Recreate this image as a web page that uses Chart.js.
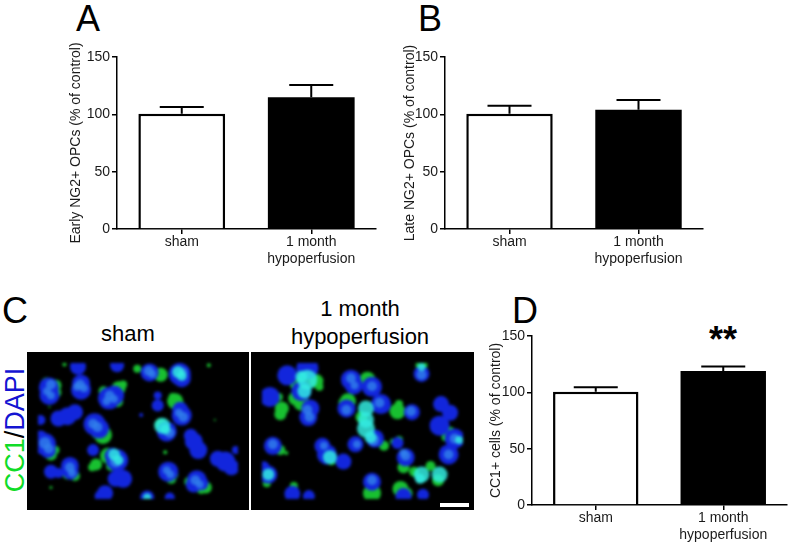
<!DOCTYPE html>
<html>
<head>
<meta charset="utf-8">
<script src="https://cdn.jsdelivr.net/npm/chart.js@4"></script>
<style>
  html, body { margin: 0; padding: 0; background: #fff; }
  body { width: 792px; height: 550px; position: relative; overflow: hidden; font-family: "Liberation Sans", Arial, sans-serif; color: #000; }
  .box { position: absolute; }
  .box canvas { display: block; }
  .txt { position: absolute; white-space: nowrap; line-height: 1; }
  .letter { font-size: 36px; }
  .head { font-size: 22px; transform: translateX(-50%); }
  .field { position: absolute; overflow: hidden; background: #000; }
  .field canvas { filter: blur(1.5px); }
</style>
</head>
<body>
<div class="txt letter" style="left:76px;top:1px">A</div>
<div class="txt letter" style="left:418px;top:1px">B</div>
<div class="txt letter" style="left:2px;top:293px">C</div>
<div class="txt letter" style="left:512px;top:293px">D</div>
<div class="txt head" style="left:128px;top:323px">sham</div>
<div class="txt head" style="left:360px;top:298px">1 month</div>
<div class="txt head" style="left:360px;top:326px">hypoperfusion</div>
<div class="txt" style="left:15px;top:430px;font-size:27px;transform:translate(-50%,-50%) rotate(-90deg)"><span style="color:#10dc28">CC1</span>/<span style="color:#1414d2">DAPI</span></div>
<div class="txt" style="left:723px;top:322px;font-size:36px;font-weight:bold;transform:translateX(-50%)">**</div>

<div class="box" style="left:68px;top:30px"><canvas id="chartA" width="312" height="245"></canvas></div>
<div class="box" style="left:402px;top:30px"><canvas id="chartB" width="305" height="245"></canvas></div>
<div class="box" style="left:488px;top:309px"><canvas id="chartD" width="303" height="241"></canvas></div>
<div class="field" style="left:27px;top:352px;width:222px;height:158px"><canvas id="fieldSham" width="222" height="158"></canvas></div>
<div class="field" style="left:251px;top:352px;width:223px;height:158px"><canvas id="fieldHypo" width="223" height="158"></canvas>
  <div style="position:absolute;left:189px;top:151px;width:29px;height:4px;background:#fff"></div>
</div>

<script>
const categories = ['sham', ['1 month', 'hypoperfusion']];
const yTicks = [0, 50, 100, 150];

const earlyValues = [100.5, 115];
const earlyErrors = [6, 10.5];
const lateValues = [100.5, 104];
const lateErrors = [7, 8.5];
const cc1Values = [100.5, 119];
const cc1Errors = [4, 4];

// micrograph blobs: [x, y, radius], x/y in field units of the image crop
const shamGreen = [[140,265,6],[143,290,5],[110,255,5],[350,275,7],[365,262,4],[345,320,6],[300,285,5],[490,228,7],[412,207,4],[538,320,8],[530,305,4],[550,335,6],[298,437,9],[278,430,6],[490,400,6],[125,505,6],[140,490,4],[315,510,8],[325,545,5],[275,540,6],[262,550,4],[205,580,5],[180,575,5],[525,590,5],[535,575,4],[640,620,6],[585,600,5],[625,625,5],[650,195,2],[170,192,2],[505,497,2],[125,620,1.5],[120,340,1],[670,385,1],[190,535,2]];
const shamBlue = [[118,272,10],[120,298,10],[225,258,9],[225,280,10],[318,310,11],[335,300,10],[453,220,9],[553,225,11],[560,240,9],[180,372,9],[205,358,8],[150,380,8],[560,370,10],[555,350,8],[270,400,11],[285,415,10],[510,425,10],[105,470,11],[115,490,8],[90,450,8],[600,460,9],[615,490,9],[590,440,7],[345,525,11],[330,510,8],[188,545,9],[190,565,8],[125,565,7],[150,570,5],[340,590,8],[365,590,9],[515,565,10],[610,595,10],[600,610,8],[625,605,7],[305,640,8],[290,650,6],[680,520,8],[705,530,10],[725,550,8],[445,655,7],[480,335,6],[480,300,4],[215,200,8],[345,195,7],[90,385,5],[425,368,2],[740,490,4],[265,490,6],[520,655,5]];
const shamLight = [[125,262,5],[112,285,4],[125,300,4],[222,262,5],[235,275,4],[212,270,4],[320,300,5],[335,312,4],[310,320,4],[450,215,5],[462,225,4],[565,218,4],[550,360,4],[565,375,5],[265,398,5],[280,410,5],[520,430,5],[105,465,6],[118,485,5],[340,530,6],[188,550,5],[195,570,4],[510,560,4],[522,575,4],[605,595,5],[620,610,4]];
const shamCyan = [[548,218,6],[560,232,5],[495,405,8],[505,418,5],[335,505,6],[350,525,5],[445,655,4]];

const hypoGreen = [[870,260,7],[865,310,7],[885,325,8],[935,250,7],[945,270,4],[1105,245,8],[1040,320,8],[1025,325,5],[820,345,7],[815,365,6],[810,305,4],[1085,375,6],[1205,355,8],[1210,330,4],[1380,430,6],[1365,445,4],[815,490,5],[835,500,2],[985,525,5],[1225,550,6],[1120,640,9],[1125,625,6],[1215,625,8],[1235,640,6],[1285,195,6],[860,615,4],[1210,455,4],[1340,595,6],[1315,545,5],[1260,565,5],[1160,475,5],[1190,460,3],[770,605,4]];
const hypoBlue = [[838,230,10],[905,205,11],[885,285,10],[915,345,9],[908,375,9],[780,305,10],[1050,245,10],[1060,265,9],[1120,270,10],[1035,345,9],[1285,225,8],[1150,330,10],[1253,358,8],[1350,330,8],[1380,360,8],[1345,405,10],[1395,450,10],[1375,505,10],[790,475,9],[955,475,8],[970,505,10],[1065,470,8],[1025,530,8],[1205,465,6],[1232,515,9],[1120,600,9],[855,642,8],[910,650,6],[1225,650,8],[1290,645,6],[775,575,9],[760,550,6],[1130,450,9]];
const hypoLight = [[905,350,5],[912,375,5],[1050,240,5],[1062,265,4],[1120,268,5],[1145,325,5],[1035,350,5],[1232,510,5],[1250,355,5],[1395,450,5],[1375,505,5],[790,470,5],[960,475,4],[1070,470,4],[1120,595,5],[1125,455,6],[1285,228,5],[1225,500,4]];
const hypoCyan = [[905,245,10],[885,235,6],[895,285,7],[1100,345,8],[1100,385,8],[1100,415,9],[1115,445,6],[1285,575,8],[1345,575,8],[1280,590,5],[980,515,7],[775,575,6],[1285,200,4],[1410,455,4]];

// draws the upper error whisker of each bar from the chart's own scales
const errorBars = {
  id: 'errorBars',
  afterDatasetsDraw(chart) {
    const errors = chart.options.plugins.errorBars.errors;
    const meta = chart.getDatasetMeta(0);
    const y = chart.scales.y;
    const c = chart.ctx;
    c.save();
    c.strokeStyle = '#000';
    c.lineWidth = 2;
    meta.data.forEach((bar, i) => {
      const top = y.getPixelForValue(chart.data.datasets[0].data[i]);
      const end = y.getPixelForValue(chart.data.datasets[0].data[i] + errors[i]);
      c.beginPath();
      c.moveTo(bar.x, top);
      c.lineTo(bar.x, end);
      c.moveTo(bar.x - 22, end);
      c.lineTo(bar.x + 22, end);
      c.stroke();
    });
    c.restore();
  }
};

function barChart(id, values, errors, title, yWidth, xHeight) {
  new Chart(document.getElementById(id), {
    type: 'bar',
    data: {
      labels: categories,
      datasets: [{
        data: values,
        backgroundColor: ['#fff', '#000'],
        borderColor: '#000',
        borderWidth: [2.5, 0],
        barPercentage: 0.67,
        categoryPercentage: 1
      }]
    },
    plugins: [errorBars],
    options: {
      responsive: false,
      animation: false,
      layout: { padding: { top: 27, right: 4, left: 0, bottom: 0 } },
      plugins: {
        legend: { display: false },
        tooltip: { enabled: false },
        errorBars: { errors: errors }
      },
      scales: {
        x: {
          afterFit(s) { s.height = xHeight; },
          border: { color: '#000', width: 1.5 },
          grid: { offset: false, drawOnChartArea: false, color: '#000', lineWidth: 1.5, tickLength: 5 },
          ticks: { color: '#1a1a1a', font: { family: 'Liberation Sans', size: 14 }, padding: 0, maxRotation: 0 }
        },
        y: {
          min: 0,
          max: 150,
          afterFit(s) { s.width = yWidth; },
          afterBuildTicks(s) { s.ticks = yTicks.map(v => ({ value: v })); },
          border: { color: '#000', width: 1.5 },
          grid: { drawOnChartArea: false, color: '#000', lineWidth: 1.5, tickLength: 5 },
          title: { display: true, text: title, color: '#1a1a1a', font: { family: 'Liberation Sans', size: 14 }, padding: 0 },
          ticks: { color: '#1a1a1a', font: { family: 'Liberation Sans', size: 14 }, padding: 2 }
        }
      }
    }
  });
}

barChart('chartA', earlyValues, earlyErrors, 'Early NG2+ OPCs (% of control)', 49, 46);
barChart('chartB', lateValues, lateErrors, 'Late NG2+ OPCs (% of control)', 43, 46);
barChart('chartD', cc1Values, cc1Errors, 'CC1+ cells (% of control)', 44, 45);

function toPoints(list) {
  return list.map(p => ({ x: p[0], y: p[1], r: p[2] }));
}

function fieldChart(id, xMin, xMax, green, blue, light, cyan) {
  new Chart(document.getElementById(id), {
    type: 'bubble',
    data: {
      datasets: [
        { data: toPoints(cyan), backgroundColor: 'rgba(50,235,225,0.85)', borderWidth: 0 },
        { data: toPoints(light), backgroundColor: 'rgba(50,130,235,0.8)', borderWidth: 0 },
        { data: toPoints(blue), backgroundColor: '#1226dc', borderWidth: 0 },
        { data: toPoints(green), backgroundColor: '#18c030', borderWidth: 0 }
      ]
    },
    options: {
      responsive: false,
      animation: false,
      layout: { padding: 0 },
      plugins: { legend: { display: false }, tooltip: { enabled: false } },
      scales: {
        x: { type: 'linear', min: xMin, max: xMax, display: false },
        y: { type: 'linear', min: 187, max: 660, reverse: true, display: false }
      }
    }
  });
}

fieldChart('fieldSham', 82, 747, shamGreen, shamBlue, shamLight, shamCyan);
fieldChart('fieldHypo', 754, 1423, hypoGreen, hypoBlue, hypoLight, hypoCyan);
</script>
</body>
</html>
